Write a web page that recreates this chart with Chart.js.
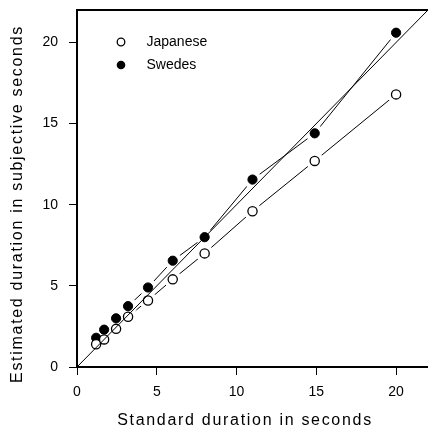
<!DOCTYPE html>
<html>
<head>
<meta charset="utf-8">
<script src="https://cdn.jsdelivr.net/npm/chart.js@4"></script>
<style>
  body { margin: 0; background: #fff; }
  #wrap { width: 428px; height: 430px; position: relative; }
</style>
</head>
<body>
<div id="wrap"><canvas id="duration-chart"></canvas></div>
<script>
// standard durations (s) and estimated durations per group
const standard = [1.2, 1.7, 2.45, 3.2, 4.45, 6.0, 8.0, 11.0, 14.9, 20.0];
const japanese = [1.4, 1.7, 2.35, 3.1, 4.1, 5.4, 7.0, 9.6, 12.7, 16.8];
const swedes = [1.8, 2.3, 3.0, 3.75, 4.9, 6.55, 8.0, 11.55, 14.4, 20.6];
const diagonal = [0, 22];
const tickValues = [0, 5, 10, 15, 20];

const FONT = "'Liberation Sans', Arial, sans-serif";

function toPoints(xs, ys) {
  return xs.map((x, i) => ({ x: x, y: ys[i] }));
}

// white discs under the markers so the connecting lines stop short of them
const halo = {
  type: "scatter",
  showLine: false,
  pointRadius: 9,
  pointHoverRadius: 9,
  pointBackgroundColor: "#fff",
  pointBorderWidth: 0,
  order: 2,
};

const data = {
  datasets: [
    {
      label: "identity",
      data: toPoints(diagonal, diagonal),
      type: "line",
      borderColor: "#000",
      borderWidth: 1,
      pointRadius: 0,
      order: 0,
    },
    {
      label: "Japanese",
      data: toPoints(standard, japanese),
      type: "scatter",
      showLine: false,
      pointRadius: 4.6,
      pointBackgroundColor: "#fff",
      pointBorderColor: "#000",
      pointBorderWidth: 1.3,
      order: 1,
    },
    {
      label: "Swedes",
      data: toPoints(standard, swedes),
      type: "scatter",
      showLine: false,
      pointRadius: 4.6,
      pointBackgroundColor: "#000",
      pointBorderColor: "#000",
      pointBorderWidth: 1,
      order: 1,
    },
    Object.assign({ label: "halo-j", data: toPoints(standard, japanese) }, halo),
    Object.assign({ label: "halo-s", data: toPoints(standard, swedes) }, halo),
    {
      label: "line-j",
      data: toPoints(standard, japanese),
      type: "line",
      borderColor: "#000",
      borderWidth: 1,
      pointRadius: 0,
      tension: 0,
      order: 3,
    },
    {
      label: "line-s",
      data: toPoints(standard, swedes),
      type: "line",
      borderColor: "#000",
      borderWidth: 1,
      pointRadius: 0,
      tension: 0,
      order: 3,
    },
  ],
};

function fixedTicks(scale) {
  scale.ticks = tickValues.map((v) => ({ value: v }));
}

function noPadding(scale) {
  scale.paddingTop = 0;
  scale.paddingBottom = 0;
  scale.paddingLeft = 0;
  scale.paddingRight = 0;
}

// top frame line, legend and axis titles
const decorations = {
  id: "decorations",
  afterDraw(chart) {
    const ctx = chart.ctx;
    const area = chart.chartArea;
    ctx.save();
    ctx.strokeStyle = "#000";
    ctx.lineWidth = 2;
    ctx.beginPath();
    ctx.moveTo(area.left, area.top);
    ctx.lineTo(area.right, area.top);
    ctx.stroke();

    // legend
    ctx.font = "14px " + FONT;
    ctx.fillStyle = "#000";
    ctx.textBaseline = "middle";
    ctx.textAlign = "left";
    ctx.lineWidth = 1.3;
    ctx.beginPath();
    ctx.arc(121, 42, 3.8, 0, Math.PI * 2);
    ctx.fillStyle = "#fff";
    ctx.fill();
    ctx.stroke();
    ctx.fillStyle = "#000";
    ctx.fillText(data.datasets[1].label, 146.5, 42);
    ctx.beginPath();
    ctx.arc(121, 65, 4.3, 0, Math.PI * 2);
    ctx.fill();
    ctx.fillText(data.datasets[2].label, 146.5, 65);

    // axis titles
    ctx.font = "16px " + FONT;
    ctx.letterSpacing = "1.7px";
    ctx.textAlign = "center";
    ctx.textBaseline = "alphabetic";
    ctx.fillText("Standard duration in seconds", 245, 425);
    ctx.translate(21.5, 204);
    ctx.rotate(-Math.PI / 2);
    ctx.fillText("Estimated duration in subjective seconds", 0, 0);
    ctx.restore();
  },
};

const axisStyle = {
  border: { display: true, color: "#000", width: 2 },
  grid: { drawOnChartArea: false, drawTicks: true, tickLength: 8, color: "#000", lineWidth: 1 },
};

var ctx = document.getElementById("duration-chart").getContext("2d");
var durationChart = new Chart(ctx, {
  type: "scatter",
  data: data,
  options: {
    responsive: true,
    maintainAspectRatio: false,
    animation: false,
    layout: { autoPadding: false, padding: { top: 10, right: 0, left: 0, bottom: 0 } },
    plugins: {
      legend: { display: false },
      tooltip: { enabled: false },
    },
    scales: {
      x: Object.assign({}, axisStyle, {
        type: "linear",
        min: 0,
        max: 22,
        afterBuildTicks: fixedTicks,
        afterFit: (scale) => { scale.height = 63; noPadding(scale); },
        ticks: { color: "#000", font: { family: FONT, size: 14 }, padding: 9, maxRotation: 0 },
      }),
      y: Object.assign({}, axisStyle, {
        type: "linear",
        min: 0,
        max: 22,
        afterBuildTicks: fixedTicks,
        afterFit: (scale) => { scale.width = 77; noPadding(scale); },
        ticks: { color: "#000", font: { family: FONT, size: 14 }, padding: 11 },
      }),
    },
  },
  plugins: [decorations],
});
</script>
</body>
</html>
